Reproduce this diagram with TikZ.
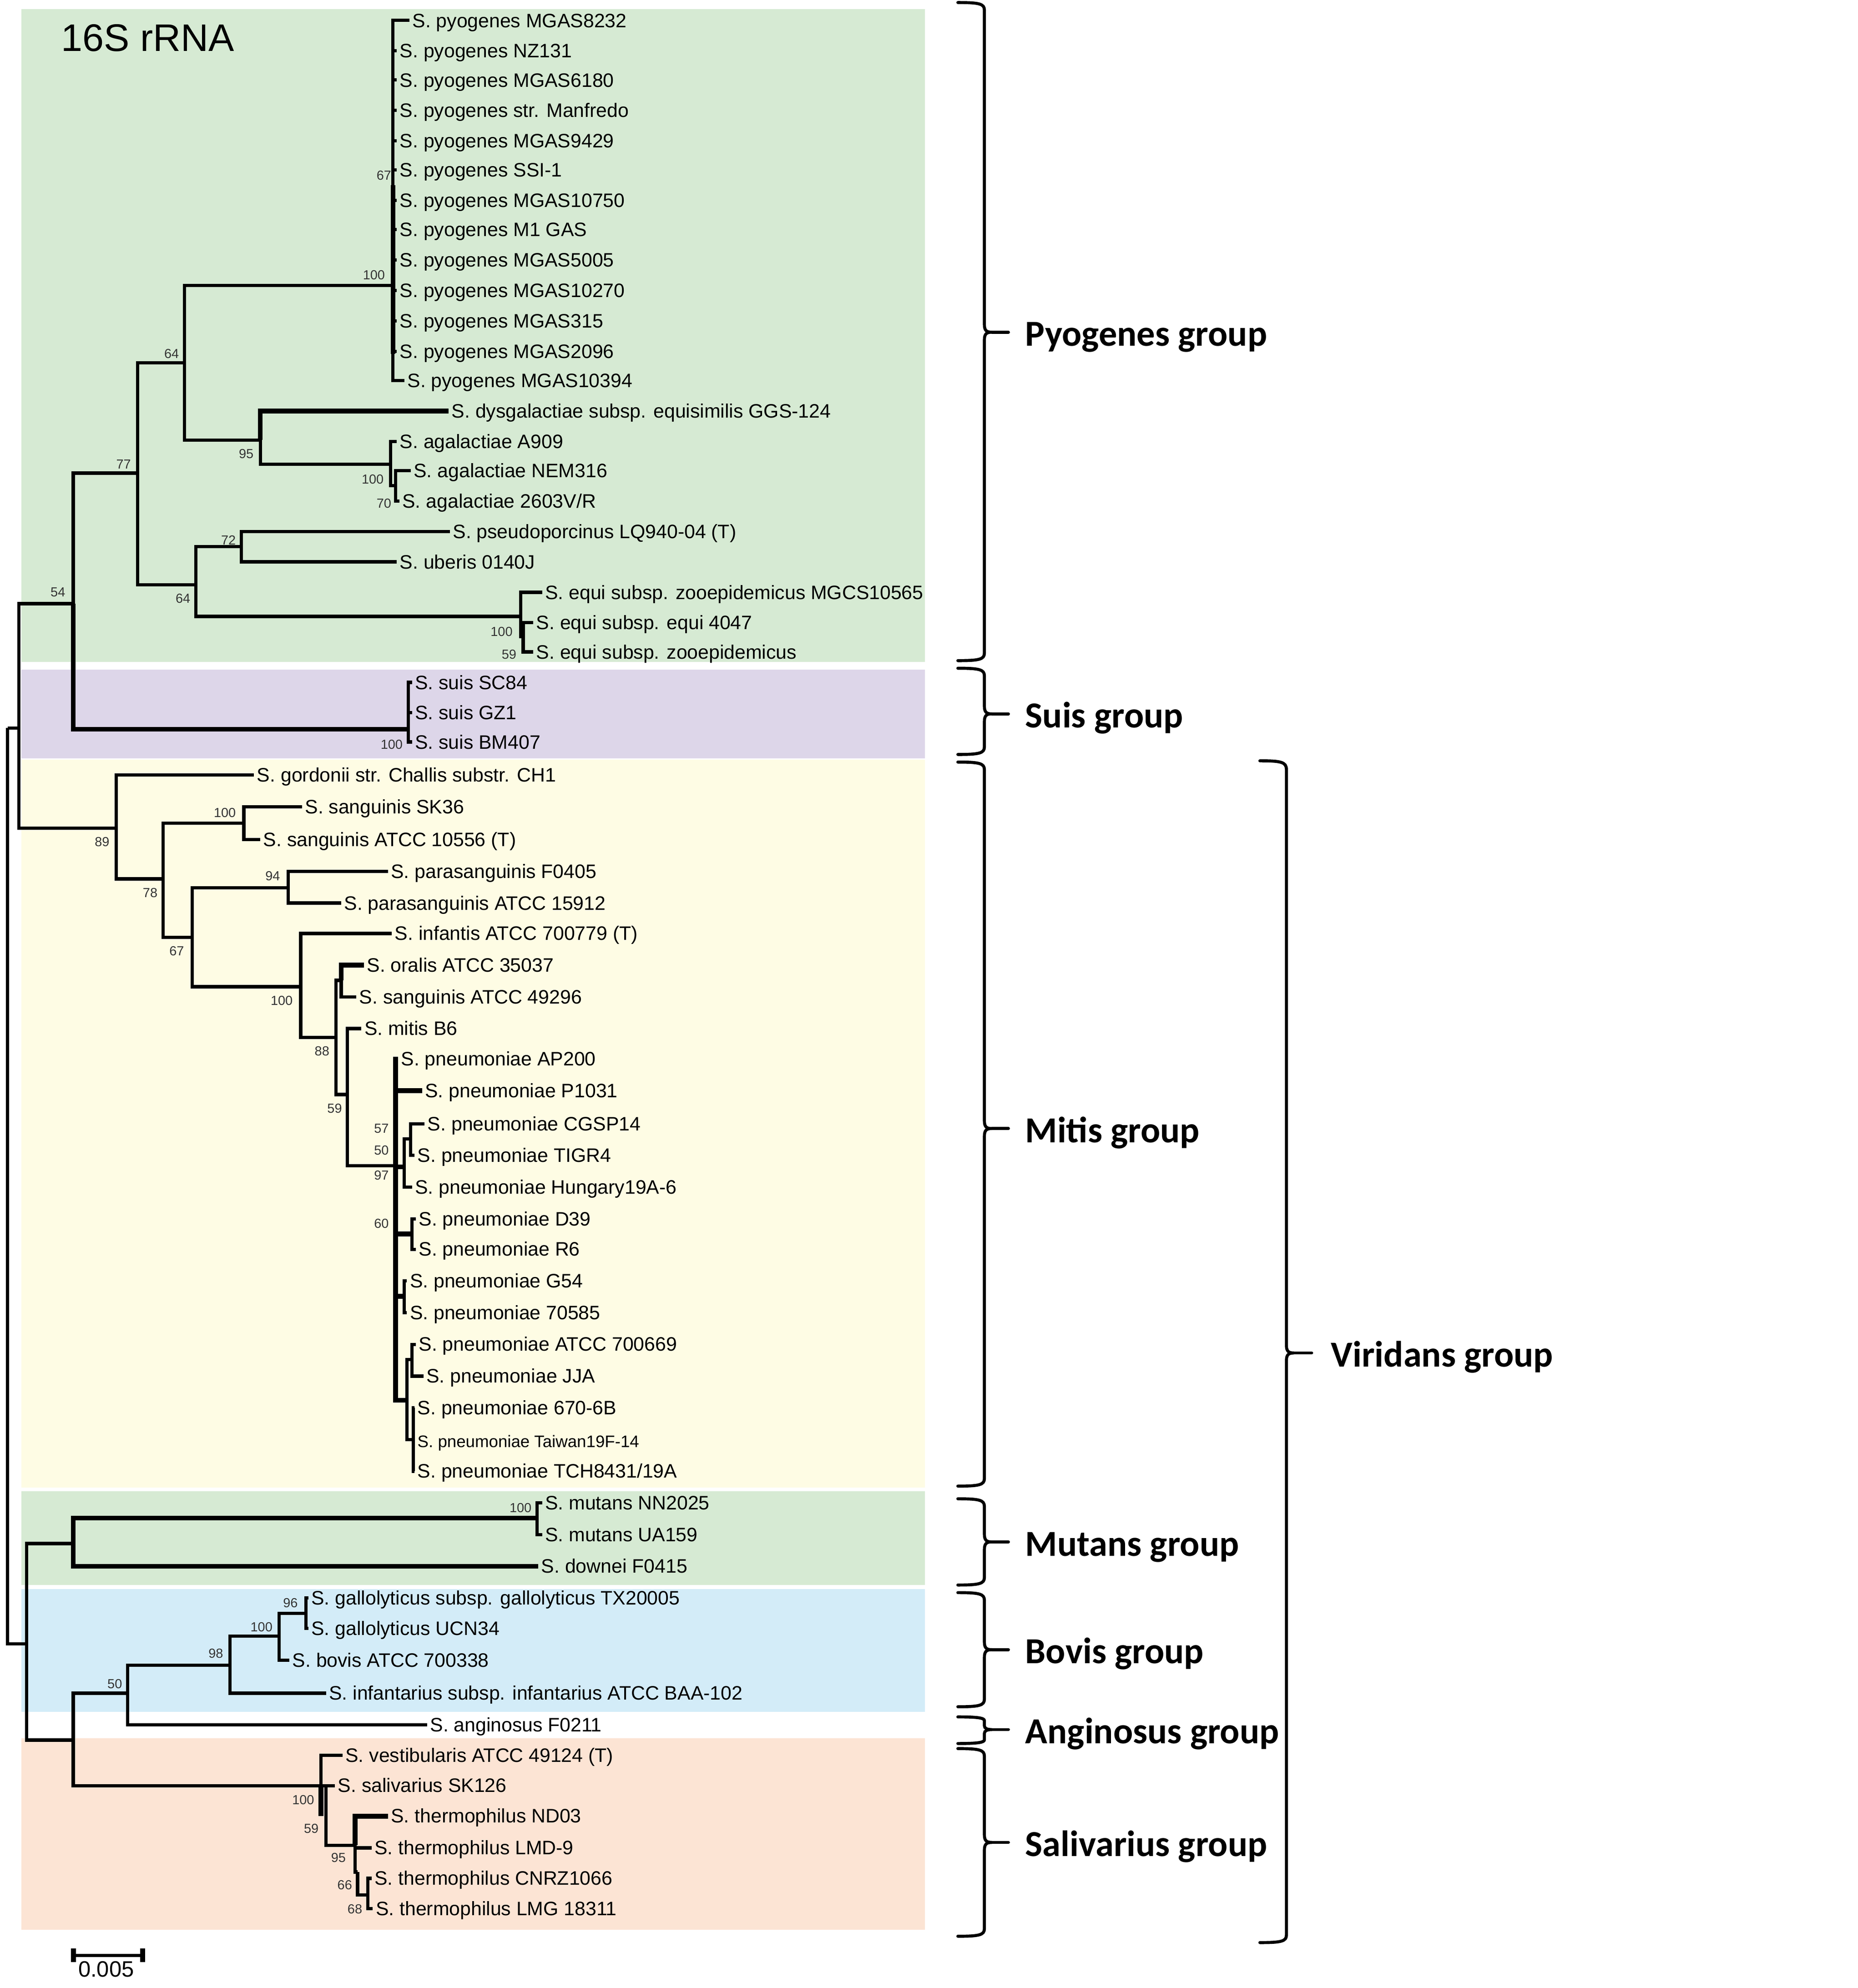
\documentclass[tikz,border=0pt]{standalone}
\usepackage{fontspec}
\setmainfont{Liberation Sans}
\newfontfamily\groupfont{Carlito}
\usetikzlibrary{calc}
\definecolor{pyogreen}{RGB}{214,234,211}
\definecolor{suispurple}{RGB}{221,214,233}
\definecolor{mitisyellow}{RGB}{254,252,228}
\definecolor{bovisblue}{RGB}{211,236,248}
\definecolor{salorange}{RGB}{252,228,212}

\begin{document}
\begin{tikzpicture}[x=0.5pt, y=-0.5pt, % 1 Einheit = 1 Bildpunkt, y nach unten
    branch/.style={line width=1.3pt, line join=miter},
    thickbranch/.style={line width=1.9pt, line join=miter},
    leaf/.style={anchor=west, inner sep=0pt, inner xsep=1pt, text height=6pt, text depth=0.45pt, font=\fontsize{7.7}{9}\selectfont},
    boot/.style={anchor=east, inner sep=0pt, font=\fontsize{5.2}{6}\selectfont, text=black!80},
    brace/.style={line width=1.2pt, line cap=round},
    grouplabel/.style={anchor=base west, inner sep=0pt, font=\groupfont\bfseries\fontsize{14.5}{17}\selectfont}]
    % Rahmen
    \useasboundingbox (0,0) rectangle (1470,1573.3);
    \begin{scope}[yscale=1.0035]
    % farbige Hintergruende der Gruppen
    \fill[pyogreen] (17,7) rectangle (732,522);
    \fill[suispurple] (17,528) rectangle (732,598);
    \fill[mitisyellow] (17,599) rectangle (732,1173);
    \fill[pyogreen] (17,1176) rectangle (732,1250);
    \fill[bovisblue] (17,1253) rectangle (732,1350);
    \fill[salorange] (17,1371) rectangle (732,1522);
    % Titel
    \node[anchor=base west, inner sep=0pt, font=\fontsize{15.2}{18}\selectfont] (title) at (48,40.3) {16S rRNA};
    % innere Knoten des Baums
    \foreach \n/\x/\y in {root/6/574, nA/15/574, n54/58/476, n77/109/373, n64a/146/286,
        p100/311/225, n95/206/347, agal/309/366, n70/313/383, n64b/155/461, n72/191/431,
        equi/412/486, n59e/414/502, suis/323/575, n89/92/653, n78/129/693, san/193/649,
        n67/152/739, n94/228/700, n100b/238/778, n88/266/818, oral/270/773, n59/275/863,
        pn/313/919, cg50/320/920, cg57/325/898, dr/326/973, gs/320/1022, lo/322/1104,
        aj/326/1072, tw/327/1135, nB/21/1296, mut/58/1217, mut100/425/1197, nC/58/1372,
        n50/101/1335, n98/182/1313, n100c/221/1290, n96/242/1272, s100/254/1408,
        s59/258/1408, n95s/281/1455, n66/283/1476, n68/291/1494} {
        \coordinate (\n) at (\x,\y);
    }
    % Aeste zwischen inneren Knoten
    \foreach \p/\c in {root/nA, root/nB, nA/n54, nA/n89, n54/n77, n54/suis, n77/n64a, n77/n64b,
        n64a/p100, n64a/n95, n95/agal, agal/n70, n64b/n72, n64b/equi, equi/n59e, n89/n78,
        n78/san, n78/n67, n67/n94, n67/n100b, n100b/n88, n88/oral, n88/n59, n59/pn,
        cg50/cg57, lo/aj, lo/tw, nB/mut, nB/nC, nC/n50, nC/s100, n50/n98, n98/n100c,
        n100c/n96, s100/s59, s59/n95s, n95s/n66, n66/n68} {
        \draw[branch] (\p) |- (\c);
    }
    % Blaetter mit Namen
    \foreach \i/\up/\x/\y/\name in {
        1/p100/326/16/{S. pyogenes MGAS8232},
        2/p100/316/40/{S. pyogenes NZ131},
        3/p100/316/63/{S. pyogenes MGAS6180},
        4/p100/316/87/{S. pyogenes str. Manfredo},
        5/p100/316/111/{S. pyogenes MGAS9429},
        6/p100/316/134/{S. pyogenes SSI-1},
        7/p100/316/158/{S. pyogenes MGAS10750},
        8/p100/316/181/{S. pyogenes M1 GAS},
        9/p100/316/205/{S. pyogenes MGAS5005},
        10/p100/316/229/{S. pyogenes MGAS10270},
        11/p100/316/253/{S. pyogenes MGAS315},
        12/p100/316/277/{S. pyogenes MGAS2096},
        13/p100/322/300/{S. pyogenes MGAS10394},
        14/n95/357/324/{S. dysgalactiae subsp. equisimilis GGS-124},
        15/agal/316/348/{S. agalactiae A909},
        16/n70/327/371/{S. agalactiae NEM316},
        17/n70/318/395/{S. agalactiae 2603V/R},
        18/n72/358/419/{S. pseudoporcinus LQ940-04 (T)},
        19/n72/316/443/{S. uberis 0140J},
        20/equi/431/467/{S. equi subsp. zooepidemicus MGCS10565},
        21/n59e/424/491/{S. equi subsp. equi 4047},
        22/n59e/424/514/{S. equi subsp. zooepidemicus},
        23/suis/328/538/{S. suis SC84},
        24/suis/328/562/{S. suis GZ1},
        25/suis/328/585/{S. suis BM407},
        26/n89/203/611/{S. gordonii str. Challis substr. CH1},
        27/san/241/636/{S. sanguinis SK36},
        28/san/208/662/{S. sanguinis ATCC 10556 (T)},
        29/n94/309/687/{S. parasanguinis F0405},
        30/n94/272/712/{S. parasanguinis ATCC 15912},
        31/n100b/312/736/{S. infantis ATCC 700779 (T)},
        32/oral/290/761/{S. oralis ATCC 35037},
        33/oral/284/786/{S. sanguinis ATCC 49296},
        34/n59/288/811/{S. mitis B6},
        35/pn/317/835/{S. pneumoniae AP200},
        36/pn/336/860/{S. pneumoniae P1031},
        37/cg57/338/886/{S. pneumoniae CGSP14},
        38/cg57/330/911/{S. pneumoniae TIGR4},
        39/cg50/328/936/{S. pneumoniae Hungary19A-6},
        40/dr/331/961/{S. pneumoniae D39},
        41/dr/331/985/{S. pneumoniae R6},
        42/gs/324/1010/{S. pneumoniae G54},
        43/gs/324/1035/{S. pneumoniae 70585},
        44/aj/331/1060/{S. pneumoniae ATCC 700669},
        45/aj/337/1085/{S. pneumoniae JJA},
        46/tw/330/1110/{S. pneumoniae 670-6B},
        47/tw/330/1136/{\fontsize{6.6}{7}\selectfont S. pneumoniae Taiwan19F-14},
        48/tw/330/1160/{S. pneumoniae TCH8431/19A},
        49/mut100/431/1185/{S. mutans NN2025},
        50/mut100/431/1210/{S. mutans UA159},
        51/mut/428/1235/{S. downei F0415},
        52/n96/246/1260/{S. gallolyticus subsp. gallolyticus TX20005},
        53/n96/246/1284/{S. gallolyticus UCN34},
        54/n100c/231/1309/{S. bovis ATCC 700338},
        55/n98/260/1335/{S. infantarius subsp. infantarius ATCC BAA-102},
        56/n50/340/1360/{S. anginosus F0211},
        57/s100/273/1384/{S. vestibularis ATCC 49124 (T)},
        58/s100/267/1408/{S. salivarius SK126},
        59/n95s/309/1432/{S. thermophilus ND03},
        60/n95s/296/1457/{S. thermophilus LMD-9},
        61/n68/296/1481/{S. thermophilus CNRZ1066},
        62/n68/297/1505/{S. thermophilus LMG 18311}} {
        \node[leaf] (l\i) at (\x-2,\y) {\name};
        \draw[branch] (\up) |- (l\i.west);
    }
    % dickere Aeste
    \foreach \p/\c in {pn/l35.west, pn/l36.west, pn/cg50, pn/dr, pn/gs, pn/lo, n54/suis,
        mut/mut100, mut/l51.west, n95/l14.west, oral/l32.west, n95s/l59.west} {
        \draw[thickbranch] (\p) |- (\c);
    }
    \coordinate (p67) at (311,146);
    \coordinate (p67end) at (311,279);
    \draw[thickbranch] (p67) -- (p67end);
    \coordinate (s100end) at (254,1432);
    \draw[thickbranch] (s100) -- (s100end);
    % Bootstrap-Werte
    \foreach \x/\y/\b [count=\k] in {310/138.5/67, 305/217/100, 142/279/64, 201/358/95,
        304/378/100, 310/397/70, 104/366/77, 187/426/72, 52/467/54, 151/472/64,
        406/498/100, 409/516/59, 319/587/100, 87/664/89, 187/641/100, 125/704/78,
        222/691/94, 146/750/67, 232/789/100, 261/829/88, 271/874/59, 308/890/57,
        308/907/50, 308/927/97, 308/965/60, 421/1189/100, 236/1264/96, 216/1283/100,
        177/1304/98, 97/1328/50, 249/1419.5/100, 252.5/1442/59, 274/1465/95, 279/1486.5/66,
        287/1505.7/68} {
        \node[boot] (bs\k) at (\x,\y) {\b};
    }
    % Klammern der Gruppen
    \foreach \ytop/\tip/\ybot/\r/\name [count=\k] in {2/262/521/6/Pyogenes group,
        527/563/595/6/Suis group, 601/890/1172/6/Mitis group, 1182/1216/1250/6/Mutans group,
        1256/1301/1346/6/Bovis group, 1354/1364/1375/3/Anginosus group,
        1379/1453/1527/6/Salivarius group} {
        \draw[brace] (758,\ytop) .. controls (775,\ytop) and (779,\ytop+1) .. (779,\ytop+\r)
            -- (779,\tip-\r) .. controls (779,\tip-1) and (781,\tip) .. (785,\tip)
            .. controls (781,\tip) and (779,\tip+1) .. (779,\tip+\r)
            -- (779,\ybot-\r) .. controls (779,\ybot-1) and (775,\ybot) .. (758,\ybot);
        \draw[brace] (785,\tip) -- (798,\tip);
        \node[grouplabel] (g\k) at (811,\tip+11) {\name};
    }
    % Viridans-Klammer
    \draw[brace] (997,600) .. controls (1014,600) and (1018,601) .. (1018,607)
        -- (1018,1061) .. controls (1018,1066) and (1020,1067) .. (1024,1067)
        .. controls (1020,1067) and (1018,1068) .. (1018,1073)
        -- (1018,1526) .. controls (1018,1531) and (1014,1532) .. (997,1532);
    \draw[brace] (1024,1067) -- (1038,1067);
    \node[grouplabel] (gvir) at (1053,1078) {Viridans group};
    \end{scope}
    % Massstab
    \coordinate (sb1) at (58.2,1547.5);
    \coordinate (sb2) at (112.8,1547.5);
    \draw[line width=1.2pt] (sb1) -- (sb2);
    \draw[line width=2pt] ($(sb1)+(0,-5.4)$) -- ($(sb1)+(0,5.4)$);
    \draw[line width=2pt] ($(sb2)+(0,-5.4)$) -- ($(sb2)+(0,5.4)$);
    \node[anchor=base, inner sep=0pt, font=\fontsize{8.8}{10}\selectfont] (sblabel) at (84,1564.3) {0.005};
\end{tikzpicture}
\end{document}
